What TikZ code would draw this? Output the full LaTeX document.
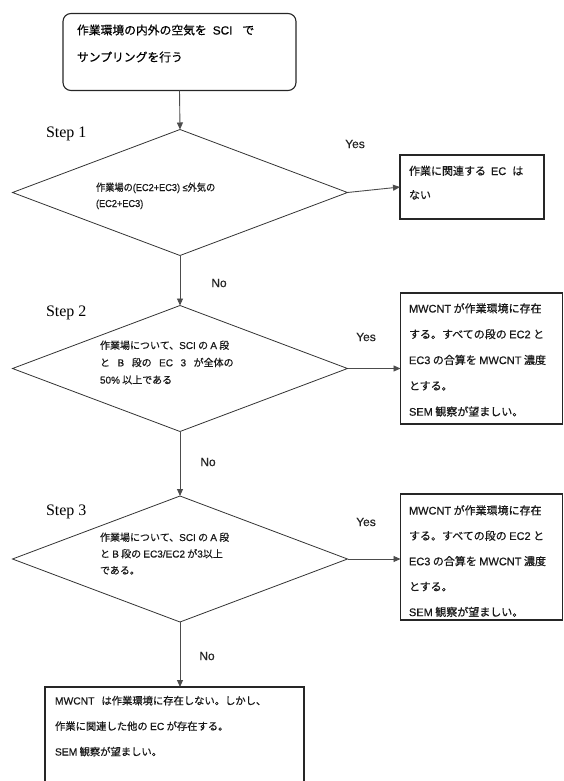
\documentclass[tikz,border=0pt]{standalone}
\usepackage{fontspec}
\setmainfont{Liberation Serif}
\newfontfamily\jp[FakeBold=0.6]{Noto Sans CJK JP}
\newfontfamily\lat[FakeBold=0.6]{Liberation Sans}
\usetikzlibrary{shapes.geometric,arrows.meta}
\newcommand{\LT}[1]{{\lat #1}}
\begin{document}
\begin{tikzpicture}[x=1pt,y=-1pt,
  every node/.style={inner sep=0pt,outer sep=0pt},
  boxline/.style={draw=black!85,line width=1.1pt},
  dia/.style={shape=diamond,draw=black!80,line width=0.8pt,minimum width=335pt,minimum height=126pt,inner sep=0pt},
  conn/.style={draw=black!70,line width=0.9pt,-{Triangle[length=7pt,width=6pt]}},
  steplab/.style={font=\fontsize{16}{16}\selectfont,anchor=base west},
  yn/.style={font=\lat\fontsize{12}{12}\selectfont,text=black!85},
  boxtxt/.style={font=\jp\fontsize{11}{11}\selectfont,anchor=base west,text=black!90},
  diatxt/.style={font=\jp\fontsize{10}{10}\selectfont,anchor=base west,text=black!90}
]
\useasboundingbox (0,0) rectangle (564,781);
\clip (0,0) rectangle (564,781);
% top box
\node[boxline,rounded corners=8pt,minimum width=233pt,minimum height=77pt] (start) at (179.5,52) {};
\node[font=\jp\fontsize{11.8}{11.8}\selectfont,anchor=base west] (starttxt) at (77,34.5) {\vtop{\baselineskip=27pt\hbox{作業環境の内外の空気を\hspace{6pt}\LT{SCI}\hspace{10pt}で}\hbox{サンプリングを行う}}};
% diamonds
\node[dia] (d1) at (180,192.5) {};
\node[dia] (d2) at (180,368.5) {};
\node[dia] (d3) at (180,559) {};
\node[steplab] (s1) at (46,137) {Step 1};
\node[steplab] (s2) at (46,316) {Step 2};
\node[steplab] (s3) at (46,515) {Step 3};
\node[diatxt] (t1) at (96,191) {\vtop{\baselineskip=16pt\hbox{\scalebox{0.92}[1]{作業場の\LT{(EC2+EC3) ≤}外気の}}\hbox{\scalebox{0.92}[1]{\LT{(EC2+EC3)}}}}};
\node[diatxt] (t2) at (100,349) {\vtop{\baselineskip=17.3pt\hbox{作業場について、\LT{SCI} の \LT{A} 段}\hbox{と\hspace{7.5pt}\LT{B}\hspace{7.5pt}段の\hspace{7.5pt}\LT{EC}\hspace{7.5pt}\LT{3}\hspace{7.5pt}が全体の}\hbox{\LT{50\%} 以上である}}};
\node[diatxt] (t3) at (100,541) {\vtop{\baselineskip=16.5pt\hbox{作業場について、\LT{SCI} の \LT{A} 段}\hbox{と \LT{B} 段の \LT{EC3/EC2} が\LT{3}以上}\hbox{である。}}};
% result boxes
\node[boxline,minimum width=144pt,minimum height=64pt] (r1) at (472,187) {};
\node[boxtxt] (r1t) at (409,175) {\vtop{\baselineskip=24pt\hbox{作業に関連する\hspace{5pt}\LT{EC}\hspace{6pt}は}\hbox{ない}}};
\node[boxline,minimum width=162pt,minimum height=131pt] (r2) at (481.5,358.5) {};
\node[boxtxt] (r2t) at (409,312.5) {\vtop{\baselineskip=25.8pt\hbox{\LT{MWCNT} が作業環境に存在}\hbox{する。すべての段の \LT{EC2} と}\hbox{\LT{EC3} の合算を \LT{MWCNT} 濃度}\hbox{とする。}\hbox{\LT{SEM} 観察が望ましい。}}};
\node[boxline,minimum width=162pt,minimum height=126pt] (r3) at (481.5,557) {};
\node[boxtxt] (r3t) at (409,514.5) {\vtop{\baselineskip=25.4pt\hbox{\LT{MWCNT} が作業環境に存在}\hbox{する。すべての段の \LT{EC2} と}\hbox{\LT{EC3} の合算を \LT{MWCNT} 濃度}\hbox{とする。}\hbox{\LT{SEM} 観察が望ましい。}}};
\node[boxline,minimum width=259pt,minimum height=110pt,anchor=north west] (r4) at (45,687) {};
\node[boxtxt,font=\jp\fontsize{10.3}{10.3}\selectfont] (r4t) at (55,704.5) {\vtop{\baselineskip=25.5pt\hbox{\LT{MWCNT}\hspace{7pt}は作業環境に存在しない。しかし、}\hbox{作業に関連した他の \LT{EC} が存在する。}\hbox{\LT{SEM} 観察が望ましい。}}};
% connectors
\draw[conn] (start.south) -- (d1.north);
\draw[conn] (d1.east) -- (r1.west);
\draw[conn] (d1.south) -- (d2.north);
\draw[conn] (d2.east) -- (r2.west |- d2.east);
\draw[conn] (d2.south) -- (d3.north);
\draw[conn] (d3.east) -- (r3.west |- d3.east);
\draw[conn] (d3.south) -- (r4.north -| d3.south);
% labels
\node[yn] (y1) at (355,144) {Yes};
\node[yn] (y2) at (366,337) {Yes};
\node[yn] (y3) at (366,522) {Yes};
\node[yn] (n1) at (219,283) {No};
\node[yn] (n2) at (208,462) {No};
\node[yn] (n3) at (207,656) {No};
\end{tikzpicture}
\end{document}
